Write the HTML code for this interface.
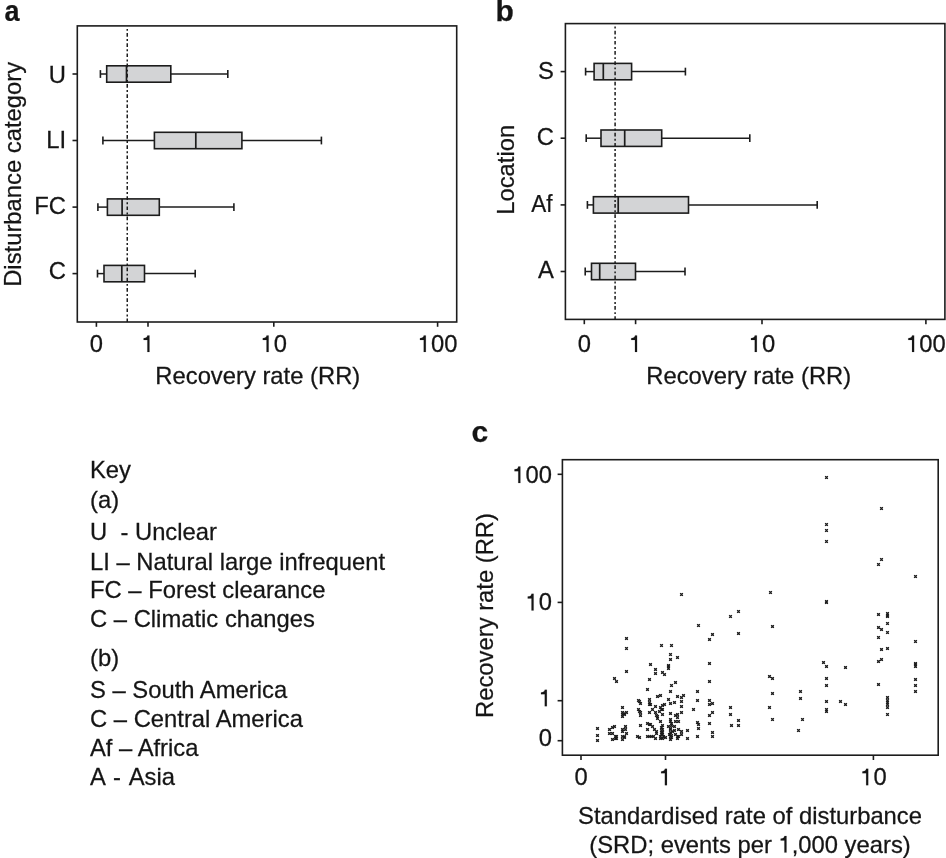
<!DOCTYPE html>
<html><head><meta charset="utf-8"><title>Recovery rate figure</title>
<style>
html,body{margin:0;padding:0;background:#fff;width:946px;height:858px;overflow:hidden}
svg{display:block;will-change:transform}
text{font-family:"Liberation Sans", sans-serif;fill:#151515;stroke:#151515;stroke-width:0.25px}
line,rect,path{stroke:#1c1c1c}
.h1{fill-opacity:0;stroke-opacity:0}
path.g1{fill:#151515;stroke:#151515;stroke-width:11px}
</style></head>
<body>
<svg width="946" height="858" viewBox="0 0 946 858">
<g id="pa">
<rect x="77.30" y="25.90" width="379.40" height="296.10" fill="none" stroke-width="1.6"/>
<line x1="72.50" y1="74.00" x2="77.30" y2="74.00" stroke-width="1.6" />
<text transform="translate(66.00,82.50) scale(1.026,1)" text-anchor="end" font-size="23.2" font-weight="400" >U</text>
<line x1="72.50" y1="140.50" x2="77.30" y2="140.50" stroke-width="1.6" />
<text transform="translate(66.00,147.50) scale(1.026,1)" text-anchor="end" font-size="23.2" font-weight="400" >LI</text>
<line x1="72.50" y1="207.10" x2="77.30" y2="207.10" stroke-width="1.6" />
<text transform="translate(66.00,214.10) scale(1.026,1)" text-anchor="end" font-size="23.2" font-weight="400" >FC</text>
<line x1="72.50" y1="273.60" x2="77.30" y2="273.60" stroke-width="1.6" />
<text transform="translate(66.00,279.10) scale(1.026,1)" text-anchor="end" font-size="23.2" font-weight="400" >C</text>
<line x1="96.40" y1="322.00" x2="96.40" y2="326.80" stroke-width="1.6" />
<text transform="translate(96.40,352.00) scale(1.026,1)" text-anchor="middle" font-size="23.2" font-weight="400" >0</text>
<line x1="148.00" y1="322.00" x2="148.00" y2="326.80" stroke-width="1.6" />
<text id="one0" transform="translate(148.00,352.00) scale(1.026,1)" text-anchor="middle" font-size="23.2" font-weight="400" ><tspan class="h1">1</tspan></text>
<path transform="translate(148.00,352.00) scale(1.026,1) translate(-6.455,0.000) scale(0.01133,-0.01133)" d="M696 0L515 0L515 1055L190 1055L190 1220Q400 1225 470 1320Q505 1385 520 1465L696 1465Z" class="g1"/>
<line x1="273.80" y1="322.00" x2="273.80" y2="326.80" stroke-width="1.6" />
<text id="one1" transform="translate(273.80,352.00) scale(1.026,1)" text-anchor="middle" font-size="23.2" font-weight="400" ><tspan class="h1">1</tspan>0</text>
<path transform="translate(273.80,352.00) scale(1.026,1) translate(-12.909,0.000) scale(0.01133,-0.01133)" d="M696 0L515 0L515 1055L190 1055L190 1220Q400 1225 470 1320Q505 1385 520 1465L696 1465Z" class="g1"/>
<line x1="437.60" y1="322.00" x2="437.60" y2="326.80" stroke-width="1.6" />
<text id="one2" transform="translate(437.60,352.00) scale(1.026,1)" text-anchor="middle" font-size="23.2" font-weight="400" ><tspan class="h1">1</tspan>00</text>
<path transform="translate(437.60,352.00) scale(1.026,1) translate(-19.356,0.000) scale(0.01133,-0.01133)" d="M696 0L515 0L515 1055L190 1055L190 1220Q400 1225 470 1320Q505 1385 520 1465L696 1465Z" class="g1"/>
<text transform="translate(257.80,383.60) scale(1.026,1)" text-anchor="middle" font-size="23.2" font-weight="400" >Recovery rate (RR)</text>
<text transform="translate(20.60,174.40) rotate(-90) scale(1.026,1)" text-anchor="middle" font-size="23.2" font-weight="400" >Disturbance category</text>
<line x1="100.40" y1="74.00" x2="106.70" y2="74.00" stroke-width="1.5" />
<line x1="170.80" y1="74.00" x2="227.80" y2="74.00" stroke-width="1.5" />
<line x1="100.40" y1="70.10" x2="100.40" y2="77.90" stroke-width="1.6" />
<line x1="227.80" y1="70.10" x2="227.80" y2="77.90" stroke-width="1.6" />
<rect x="106.70" y="65.80" width="64.10" height="16.40" fill="#d3d4d6" stroke-width="1.6"/>
<line x1="126.50" y1="65.80" x2="126.50" y2="82.20" stroke-width="1.7" />
<line x1="102.90" y1="140.50" x2="154.40" y2="140.50" stroke-width="1.5" />
<line x1="241.90" y1="140.50" x2="321.40" y2="140.50" stroke-width="1.5" />
<line x1="102.90" y1="136.60" x2="102.90" y2="144.40" stroke-width="1.6" />
<line x1="321.40" y1="136.60" x2="321.40" y2="144.40" stroke-width="1.6" />
<rect x="154.40" y="132.30" width="87.50" height="16.40" fill="#d3d4d6" stroke-width="1.6"/>
<line x1="195.80" y1="132.30" x2="195.80" y2="148.70" stroke-width="1.7" />
<line x1="97.90" y1="207.10" x2="107.40" y2="207.10" stroke-width="1.5" />
<line x1="159.30" y1="207.10" x2="233.90" y2="207.10" stroke-width="1.5" />
<line x1="97.90" y1="203.20" x2="97.90" y2="211.00" stroke-width="1.6" />
<line x1="233.90" y1="203.20" x2="233.90" y2="211.00" stroke-width="1.6" />
<rect x="107.40" y="198.90" width="51.90" height="16.40" fill="#d3d4d6" stroke-width="1.6"/>
<line x1="122.10" y1="198.90" x2="122.10" y2="215.30" stroke-width="1.7" />
<line x1="97.50" y1="273.60" x2="104.00" y2="273.60" stroke-width="1.5" />
<line x1="144.50" y1="273.60" x2="195.20" y2="273.60" stroke-width="1.5" />
<line x1="97.50" y1="269.70" x2="97.50" y2="277.50" stroke-width="1.6" />
<line x1="195.20" y1="269.70" x2="195.20" y2="277.50" stroke-width="1.6" />
<rect x="104.00" y="265.40" width="40.50" height="16.40" fill="#d3d4d6" stroke-width="1.6"/>
<line x1="121.80" y1="265.40" x2="121.80" y2="281.80" stroke-width="1.7" />
<line x1="127.25" y1="28.90" x2="127.25" y2="322.00" stroke-width="1.5" stroke-dasharray="1.9 2.2 3.7 2.4"/>
</g>
<g id="pb">
<rect x="565.40" y="23.60" width="379.50" height="295.80" fill="none" stroke-width="1.6"/>
<line x1="560.60" y1="71.60" x2="565.40" y2="71.60" stroke-width="1.6" />
<text transform="translate(554.00,79.20) scale(1.026,1)" text-anchor="end" font-size="23.2" font-weight="400" >S</text>
<line x1="560.60" y1="138.20" x2="565.40" y2="138.20" stroke-width="1.6" />
<text transform="translate(554.00,145.20) scale(1.026,1)" text-anchor="end" font-size="23.2" font-weight="400" >C</text>
<line x1="560.60" y1="204.90" x2="565.40" y2="204.90" stroke-width="1.6" />
<text transform="translate(552.60,211.90) scale(0.97,1)" text-anchor="end" font-size="23.2" font-weight="400" >Af</text>
<line x1="560.60" y1="271.50" x2="565.40" y2="271.50" stroke-width="1.6" />
<text transform="translate(554.00,277.60) scale(1.026,1)" text-anchor="end" font-size="23.2" font-weight="400" >A</text>
<line x1="584.30" y1="319.40" x2="584.30" y2="324.20" stroke-width="1.6" />
<text transform="translate(584.30,352.00) scale(1.026,1)" text-anchor="middle" font-size="23.2" font-weight="400" >0</text>
<line x1="635.60" y1="319.40" x2="635.60" y2="324.20" stroke-width="1.6" />
<text id="one3" transform="translate(635.60,352.00) scale(1.026,1)" text-anchor="middle" font-size="23.2" font-weight="400" ><tspan class="h1">1</tspan></text>
<path transform="translate(635.60,352.00) scale(1.026,1) translate(-6.455,0.000) scale(0.01133,-0.01133)" d="M696 0L515 0L515 1055L190 1055L190 1220Q400 1225 470 1320Q505 1385 520 1465L696 1465Z" class="g1"/>
<line x1="762.00" y1="319.40" x2="762.00" y2="324.20" stroke-width="1.6" />
<text id="one4" transform="translate(762.00,352.00) scale(1.026,1)" text-anchor="middle" font-size="23.2" font-weight="400" ><tspan class="h1">1</tspan>0</text>
<path transform="translate(762.00,352.00) scale(1.026,1) translate(-12.909,0.000) scale(0.01133,-0.01133)" d="M696 0L515 0L515 1055L190 1055L190 1220Q400 1225 470 1320Q505 1385 520 1465L696 1465Z" class="g1"/>
<line x1="925.90" y1="319.40" x2="925.90" y2="324.20" stroke-width="1.6" />
<text id="one5" transform="translate(925.90,352.00) scale(1.026,1)" text-anchor="middle" font-size="23.2" font-weight="400" ><tspan class="h1">1</tspan>00</text>
<path transform="translate(925.90,352.00) scale(1.026,1) translate(-19.356,0.000) scale(0.01133,-0.01133)" d="M696 0L515 0L515 1055L190 1055L190 1220Q400 1225 470 1320Q505 1385 520 1465L696 1465Z" class="g1"/>
<text transform="translate(748.70,383.60) scale(1.026,1)" text-anchor="middle" font-size="23.2" font-weight="400" >Recovery rate (RR)</text>
<text transform="translate(514.30,169.80) rotate(-90) scale(1.026,1)" text-anchor="middle" font-size="23.2" font-weight="400" >Location</text>
<line x1="585.60" y1="71.60" x2="594.10" y2="71.60" stroke-width="1.5" />
<line x1="631.60" y1="71.60" x2="685.40" y2="71.60" stroke-width="1.5" />
<line x1="585.60" y1="67.70" x2="585.60" y2="75.50" stroke-width="1.6" />
<line x1="685.40" y1="67.70" x2="685.40" y2="75.50" stroke-width="1.6" />
<rect x="594.10" y="63.40" width="37.50" height="16.40" fill="#d3d4d6" stroke-width="1.6"/>
<line x1="603.30" y1="63.40" x2="603.30" y2="79.80" stroke-width="1.7" />
<line x1="586.20" y1="138.20" x2="601.00" y2="138.20" stroke-width="1.5" />
<line x1="661.70" y1="138.20" x2="749.80" y2="138.20" stroke-width="1.5" />
<line x1="586.20" y1="134.30" x2="586.20" y2="142.10" stroke-width="1.6" />
<line x1="749.80" y1="134.30" x2="749.80" y2="142.10" stroke-width="1.6" />
<rect x="601.00" y="130.00" width="60.70" height="16.40" fill="#d3d4d6" stroke-width="1.6"/>
<line x1="624.70" y1="130.00" x2="624.70" y2="146.40" stroke-width="1.7" />
<line x1="587.40" y1="204.90" x2="593.40" y2="204.90" stroke-width="1.5" />
<line x1="688.50" y1="204.90" x2="817.20" y2="204.90" stroke-width="1.5" />
<line x1="587.40" y1="201.00" x2="587.40" y2="208.80" stroke-width="1.6" />
<line x1="817.20" y1="201.00" x2="817.20" y2="208.80" stroke-width="1.6" />
<rect x="593.40" y="196.70" width="95.10" height="16.40" fill="#d3d4d6" stroke-width="1.6"/>
<line x1="618.20" y1="196.70" x2="618.20" y2="213.10" stroke-width="1.7" />
<line x1="585.20" y1="271.50" x2="591.50" y2="271.50" stroke-width="1.5" />
<line x1="635.50" y1="271.50" x2="685.00" y2="271.50" stroke-width="1.5" />
<line x1="585.20" y1="267.60" x2="585.20" y2="275.40" stroke-width="1.6" />
<line x1="685.00" y1="267.60" x2="685.00" y2="275.40" stroke-width="1.6" />
<rect x="591.50" y="263.30" width="44.00" height="16.40" fill="#d3d4d6" stroke-width="1.6"/>
<line x1="599.70" y1="263.30" x2="599.70" y2="279.70" stroke-width="1.7" />
<line x1="615.10" y1="26.60" x2="615.10" y2="319.40" stroke-width="1.5" stroke-dasharray="1.9 2.2 3.7 2.4"/>
</g>
<g id="pc">
<rect x="562.40" y="459.70" width="375.80" height="295.50" fill="none" stroke-width="1.6"/>
<line x1="557.60" y1="474.30" x2="562.40" y2="474.30" stroke-width="1.6" />
<text id="one6" transform="translate(552.00,483.10) scale(1.026,1)" text-anchor="end" font-size="23.2" font-weight="400" ><tspan class="h1">1</tspan>00</text>
<path transform="translate(552.00,483.10) scale(1.026,1) translate(-38.712,0.000) scale(0.01133,-0.01133)" d="M696 0L515 0L515 1055L190 1055L190 1220Q400 1225 470 1320Q505 1385 520 1465L696 1465Z" class="g1"/>
<line x1="557.60" y1="602.40" x2="562.40" y2="602.40" stroke-width="1.6" />
<text id="one7" transform="translate(552.00,610.40) scale(1.026,1)" text-anchor="end" font-size="23.2" font-weight="400" ><tspan class="h1">1</tspan>0</text>
<path transform="translate(552.00,610.40) scale(1.026,1) translate(-25.818,0.000) scale(0.01133,-0.01133)" d="M696 0L515 0L515 1055L190 1055L190 1220Q400 1225 470 1320Q505 1385 520 1465L696 1465Z" class="g1"/>
<line x1="557.60" y1="700.70" x2="562.40" y2="700.70" stroke-width="1.6" />
<text id="one8" transform="translate(552.00,706.30) scale(1.026,1)" text-anchor="end" font-size="23.2" font-weight="400" ><tspan class="h1">1</tspan></text>
<path transform="translate(552.00,706.30) scale(1.026,1) translate(-12.909,0.000) scale(0.01133,-0.01133)" d="M696 0L515 0L515 1055L190 1055L190 1220Q400 1225 470 1320Q505 1385 520 1465L696 1465Z" class="g1"/>
<line x1="557.60" y1="740.70" x2="562.40" y2="740.70" stroke-width="1.6" />
<text transform="translate(552.00,746.30) scale(1.026,1)" text-anchor="end" font-size="23.2" font-weight="400" >0</text>
<line x1="581.00" y1="755.20" x2="581.00" y2="760.00" stroke-width="1.6" />
<text transform="translate(581.00,785.30) scale(1.026,1)" text-anchor="middle" font-size="23.2" font-weight="400" >0</text>
<line x1="665.50" y1="755.20" x2="665.50" y2="760.00" stroke-width="1.6" />
<text id="one9" transform="translate(665.50,785.30) scale(1.026,1)" text-anchor="middle" font-size="23.2" font-weight="400" ><tspan class="h1">1</tspan></text>
<path transform="translate(665.50,785.30) scale(1.026,1) translate(-6.455,0.000) scale(0.01133,-0.01133)" d="M696 0L515 0L515 1055L190 1055L190 1220Q400 1225 470 1320Q505 1385 520 1465L696 1465Z" class="g1"/>
<line x1="873.40" y1="755.20" x2="873.40" y2="760.00" stroke-width="1.6" />
<text id="one10" transform="translate(873.40,785.30) scale(1.026,1)" text-anchor="middle" font-size="23.2" font-weight="400" ><tspan class="h1">1</tspan>0</text>
<path transform="translate(873.40,785.30) scale(1.026,1) translate(-12.909,0.000) scale(0.01133,-0.01133)" d="M696 0L515 0L515 1055L190 1055L190 1220Q400 1225 470 1320Q505 1385 520 1465L696 1465Z" class="g1"/>
<text transform="translate(750.00,823.50) scale(1.026,1)" text-anchor="middle" font-size="23.2" font-weight="400" >Standardised rate of disturbance</text>
<text id="one11" transform="translate(750.00,852.50) scale(1.026,1)" text-anchor="middle" font-size="23.2" font-weight="400" >(SRD; events per <tspan class="h1">1</tspan>,000 years)</text>
<path transform="translate(750.00,852.50) scale(1.026,1) translate(27.700,0.000) scale(0.01133,-0.01133)" d="M696 0L515 0L515 1055L190 1055L190 1220Q400 1225 470 1320Q505 1385 520 1465L696 1465Z" class="g1"/>
<text transform="translate(493.00,615.50) rotate(-90) scale(1.026,1)" text-anchor="middle" font-size="23.2" font-weight="400" >Recovery rate (RR)</text>
<path d="M825.0 476.0h3v3h-3zM880.0 507.0h3v3h-3zM825.0 523.0h3v3h-3zM825.0 529.0h3v3h-3zM825.0 540.0h3v3h-3zM880.0 558.0h3v3h-3zM877.0 563.0h3v3h-3zM914.0 575.0h3v3h-3zM680.0 593.0h3v3h-3zM769.0 591.0h3v3h-3zM737.0 610.0h3v3h-3zM729.0 615.0h3v3h-3zM697.0 624.0h3v3h-3zM771.0 625.0h3v3h-3zM711.0 633.0h3v3h-3zM708.0 638.0h3v3h-3zM737.0 632.0h3v3h-3zM660.0 644.0h3v3h-3zM670.0 644.0h3v3h-3zM825.0 600.0h3v3h-3zM825.0 601.0h3v3h-3zM877.0 613.0h3v3h-3zM886.0 612.0h3v3h-3zM886.0 614.0h3v3h-3zM886.0 615.0h3v3h-3zM886.0 622.0h3v3h-3zM877.0 626.0h3v3h-3zM880.0 628.0h3v3h-3zM886.0 631.0h3v3h-3zM877.0 636.0h3v3h-3zM914.0 640.0h3v3h-3zM880.0 648.0h3v3h-3zM886.0 647.0h3v3h-3zM822.0 661.0h3v3h-3zM825.0 665.0h3v3h-3zM844.0 666.0h3v3h-3zM877.0 660.0h3v3h-3zM880.0 658.0h3v3h-3zM914.0 662.0h3v3h-3zM914.0 663.0h3v3h-3zM914.0 665.0h3v3h-3zM825.0 677.0h3v3h-3zM914.0 678.0h3v3h-3zM825.0 684.0h3v3h-3zM877.0 683.0h3v3h-3zM914.0 684.0h3v3h-3zM914.0 690.0h3v3h-3zM799.0 690.0h3v3h-3zM799.0 697.0h3v3h-3zM825.0 700.0h3v3h-3zM825.0 708.0h3v3h-3zM825.0 710.0h3v3h-3zM839.0 700.0h3v3h-3zM844.0 703.0h3v3h-3zM886.0 696.0h3v3h-3zM886.0 699.0h3v3h-3zM886.0 701.0h3v3h-3zM886.0 703.0h3v3h-3zM886.0 706.0h3v3h-3zM886.0 713.0h3v3h-3zM801.0 718.0h3v3h-3zM797.0 729.0h3v3h-3zM708.0 662.0h3v3h-3zM708.0 680.0h3v3h-3zM708.0 699.0h3v3h-3zM708.0 703.0h3v3h-3zM711.0 702.0h3v3h-3zM711.0 711.0h3v3h-3zM708.0 714.0h3v3h-3zM708.0 722.0h3v3h-3zM711.0 731.0h3v3h-3zM711.0 735.0h3v3h-3zM729.0 706.0h3v3h-3zM729.0 713.0h3v3h-3zM730.0 724.0h3v3h-3zM737.0 719.0h3v3h-3zM737.0 724.0h3v3h-3zM768.0 675.0h3v3h-3zM771.0 677.0h3v3h-3zM771.0 692.0h3v3h-3zM768.0 706.0h3v3h-3zM771.0 718.0h3v3h-3zM625.0 637.0h3v3h-3zM625.0 647.0h3v3h-3zM625.0 670.0h3v3h-3zM613.0 677.0h3v3h-3zM615.0 680.0h3v3h-3zM649.0 663.0h3v3h-3zM654.0 668.0h3v3h-3zM654.0 672.0h3v3h-3zM648.0 678.0h3v3h-3zM646.0 688.0h3v3h-3zM669.0 653.0h3v3h-3zM669.0 658.0h3v3h-3zM676.0 656.0h3v3h-3zM667.0 664.0h3v3h-3zM667.0 665.0h3v3h-3zM667.0 667.0h3v3h-3zM661.0 671.0h3v3h-3zM663.0 673.0h3v3h-3zM674.0 681.0h3v3h-3zM670.0 684.0h3v3h-3zM637.0 699.0h3v3h-3zM638.0 700.0h3v3h-3zM639.0 702.0h3v3h-3zM637.0 708.0h3v3h-3zM638.0 710.0h3v3h-3zM639.0 711.0h3v3h-3zM639.0 714.0h3v3h-3zM639.0 724.0h3v3h-3zM636.0 735.0h3v3h-3zM638.0 736.0h3v3h-3zM648.0 698.0h3v3h-3zM648.0 701.0h3v3h-3zM648.0 703.0h3v3h-3zM648.0 711.0h3v3h-3zM646.0 722.0h3v3h-3zM648.0 723.0h3v3h-3zM646.0 728.0h3v3h-3zM646.0 735.0h3v3h-3zM648.0 735.0h3v3h-3zM621.0 706.0h3v3h-3zM621.0 711.0h3v3h-3zM623.0 712.0h3v3h-3zM625.0 711.0h3v3h-3zM621.0 713.0h3v3h-3zM623.0 713.0h3v3h-3zM621.0 715.0h3v3h-3zM596.0 727.0h3v3h-3zM596.0 734.0h3v3h-3zM596.0 739.0h3v3h-3zM608.0 728.0h3v3h-3zM608.0 732.0h3v3h-3zM611.0 726.0h3v3h-3zM613.0 725.0h3v3h-3zM611.0 732.0h3v3h-3zM614.0 735.0h3v3h-3zM615.0 735.0h3v3h-3zM614.0 737.0h3v3h-3zM615.0 737.0h3v3h-3zM611.0 738.0h3v3h-3zM621.0 728.0h3v3h-3zM624.0 725.0h3v3h-3zM624.0 728.0h3v3h-3zM621.0 730.0h3v3h-3zM625.0 732.0h3v3h-3zM621.0 735.0h3v3h-3zM623.0 735.0h3v3h-3zM621.0 738.0h3v3h-3zM623.0 736.0h3v3h-3zM669.0 690.0h3v3h-3zM696.0 690.0h3v3h-3zM656.0 695.0h3v3h-3zM659.0 694.0h3v3h-3zM667.0 698.0h3v3h-3zM676.0 695.0h3v3h-3zM682.0 694.0h3v3h-3zM680.0 696.0h3v3h-3zM680.0 700.0h3v3h-3zM696.0 699.0h3v3h-3zM649.0 703.0h3v3h-3zM669.0 702.0h3v3h-3zM673.0 701.0h3v3h-3zM680.0 705.0h3v3h-3zM654.0 705.0h3v3h-3zM651.0 708.0h3v3h-3zM659.0 706.0h3v3h-3zM661.0 704.0h3v3h-3zM663.0 703.0h3v3h-3zM660.0 708.0h3v3h-3zM661.0 708.0h3v3h-3zM654.0 711.0h3v3h-3zM658.0 710.0h3v3h-3zM661.0 713.0h3v3h-3zM669.0 712.0h3v3h-3zM680.0 711.0h3v3h-3zM692.0 708.0h3v3h-3zM655.0 714.0h3v3h-3zM656.0 717.0h3v3h-3zM659.0 720.0h3v3h-3zM674.0 714.0h3v3h-3zM676.0 713.0h3v3h-3zM676.0 716.0h3v3h-3zM674.0 720.0h3v3h-3zM677.0 720.0h3v3h-3zM669.0 718.0h3v3h-3zM670.0 722.0h3v3h-3zM696.0 721.0h3v3h-3zM697.0 723.0h3v3h-3zM649.0 723.0h3v3h-3zM651.0 725.0h3v3h-3zM661.0 724.0h3v3h-3zM660.0 726.0h3v3h-3zM667.0 725.0h3v3h-3zM673.0 725.0h3v3h-3zM677.0 728.0h3v3h-3zM686.0 729.0h3v3h-3zM697.0 727.0h3v3h-3zM653.0 728.0h3v3h-3zM655.0 730.0h3v3h-3zM655.0 732.0h3v3h-3zM660.0 729.0h3v3h-3zM661.0 731.0h3v3h-3zM660.0 733.0h3v3h-3zM669.0 728.0h3v3h-3zM669.0 731.0h3v3h-3zM668.0 733.0h3v3h-3zM670.0 734.0h3v3h-3zM673.0 729.0h3v3h-3zM674.0 733.0h3v3h-3zM680.0 730.0h3v3h-3zM680.0 733.0h3v3h-3zM650.0 735.0h3v3h-3zM652.0 735.0h3v3h-3zM654.0 737.0h3v3h-3zM659.0 735.0h3v3h-3zM661.0 737.0h3v3h-3zM659.0 737.0h3v3h-3zM664.0 736.0h3v3h-3zM669.0 735.0h3v3h-3zM669.0 738.0h3v3h-3zM676.0 735.0h3v3h-3zM676.0 737.0h3v3h-3zM677.0 735.0h3v3h-3zM686.0 737.0h3v3h-3zM696.0 735.0h3v3h-3zM661.0 728.0h3v3h-3zM660.0 731.0h3v3h-3zM661.0 733.0h3v3h-3zM662.0 735.0h3v3h-3zM669.0 720.0h3v3h-3zM670.0 724.0h3v3h-3zM669.0 727.0h3v3h-3zM670.0 736.0h3v3h-3zM671.0 730.0h3v3h-3zM656.0 715.0h3v3h-3z" fill="#9a9a9a" style="stroke:none"/>
<path d="M825.1 476.1L827.9 478.9M825.1 478.9L827.9 476.1M880.1 507.1L882.9 509.9M880.1 509.9L882.9 507.1M825.1 523.1L827.9 525.9M825.1 525.9L827.9 523.1M825.1 529.1L827.9 531.9M825.1 531.9L827.9 529.1M825.1 540.1L827.9 542.9M825.1 542.9L827.9 540.1M880.1 558.1L882.9 560.9M880.1 560.9L882.9 558.1M877.1 563.1L879.9 565.9M877.1 565.9L879.9 563.1M914.1 575.1L916.9 577.9M914.1 577.9L916.9 575.1M680.1 593.1L682.9 595.9M680.1 595.9L682.9 593.1M769.1 591.1L771.9 593.9M769.1 593.9L771.9 591.1M737.1 610.1L739.9 612.9M737.1 612.9L739.9 610.1M729.1 615.1L731.9 617.9M729.1 617.9L731.9 615.1M697.1 624.1L699.9 626.9M697.1 626.9L699.9 624.1M771.1 625.1L773.9 627.9M771.1 627.9L773.9 625.1M711.1 633.1L713.9 635.9M711.1 635.9L713.9 633.1M708.1 638.1L710.9 640.9M708.1 640.9L710.9 638.1M737.1 632.1L739.9 634.9M737.1 634.9L739.9 632.1M660.1 644.1L662.9 646.9M660.1 646.9L662.9 644.1M670.1 644.1L672.9 646.9M670.1 646.9L672.9 644.1M825.1 600.1L827.9 602.9M825.1 602.9L827.9 600.1M825.1 601.1L827.9 603.9M825.1 603.9L827.9 601.1M877.1 613.1L879.9 615.9M877.1 615.9L879.9 613.1M886.1 612.1L888.9 614.9M886.1 614.9L888.9 612.1M886.1 614.1L888.9 616.9M886.1 616.9L888.9 614.1M886.1 615.1L888.9 617.9M886.1 617.9L888.9 615.1M886.1 622.1L888.9 624.9M886.1 624.9L888.9 622.1M877.1 626.1L879.9 628.9M877.1 628.9L879.9 626.1M880.1 628.1L882.9 630.9M880.1 630.9L882.9 628.1M886.1 631.1L888.9 633.9M886.1 633.9L888.9 631.1M877.1 636.1L879.9 638.9M877.1 638.9L879.9 636.1M914.1 640.1L916.9 642.9M914.1 642.9L916.9 640.1M880.1 648.1L882.9 650.9M880.1 650.9L882.9 648.1M886.1 647.1L888.9 649.9M886.1 649.9L888.9 647.1M822.1 661.1L824.9 663.9M822.1 663.9L824.9 661.1M825.1 665.1L827.9 667.9M825.1 667.9L827.9 665.1M844.1 666.1L846.9 668.9M844.1 668.9L846.9 666.1M877.1 660.1L879.9 662.9M877.1 662.9L879.9 660.1M880.1 658.1L882.9 660.9M880.1 660.9L882.9 658.1M914.1 662.1L916.9 664.9M914.1 664.9L916.9 662.1M914.1 663.1L916.9 665.9M914.1 665.9L916.9 663.1M914.1 665.1L916.9 667.9M914.1 667.9L916.9 665.1M825.1 677.1L827.9 679.9M825.1 679.9L827.9 677.1M914.1 678.1L916.9 680.9M914.1 680.9L916.9 678.1M825.1 684.1L827.9 686.9M825.1 686.9L827.9 684.1M877.1 683.1L879.9 685.9M877.1 685.9L879.9 683.1M914.1 684.1L916.9 686.9M914.1 686.9L916.9 684.1M914.1 690.1L916.9 692.9M914.1 692.9L916.9 690.1M799.1 690.1L801.9 692.9M799.1 692.9L801.9 690.1M799.1 697.1L801.9 699.9M799.1 699.9L801.9 697.1M825.1 700.1L827.9 702.9M825.1 702.9L827.9 700.1M825.1 708.1L827.9 710.9M825.1 710.9L827.9 708.1M825.1 710.1L827.9 712.9M825.1 712.9L827.9 710.1M839.1 700.1L841.9 702.9M839.1 702.9L841.9 700.1M844.1 703.1L846.9 705.9M844.1 705.9L846.9 703.1M886.1 696.1L888.9 698.9M886.1 698.9L888.9 696.1M886.1 699.1L888.9 701.9M886.1 701.9L888.9 699.1M886.1 701.1L888.9 703.9M886.1 703.9L888.9 701.1M886.1 703.1L888.9 705.9M886.1 705.9L888.9 703.1M886.1 706.1L888.9 708.9M886.1 708.9L888.9 706.1M886.1 713.1L888.9 715.9M886.1 715.9L888.9 713.1M801.1 718.1L803.9 720.9M801.1 720.9L803.9 718.1M797.1 729.1L799.9 731.9M797.1 731.9L799.9 729.1M708.1 662.1L710.9 664.9M708.1 664.9L710.9 662.1M708.1 680.1L710.9 682.9M708.1 682.9L710.9 680.1M708.1 699.1L710.9 701.9M708.1 701.9L710.9 699.1M708.1 703.1L710.9 705.9M708.1 705.9L710.9 703.1M711.1 702.1L713.9 704.9M711.1 704.9L713.9 702.1M711.1 711.1L713.9 713.9M711.1 713.9L713.9 711.1M708.1 714.1L710.9 716.9M708.1 716.9L710.9 714.1M708.1 722.1L710.9 724.9M708.1 724.9L710.9 722.1M711.1 731.1L713.9 733.9M711.1 733.9L713.9 731.1M711.1 735.1L713.9 737.9M711.1 737.9L713.9 735.1M729.1 706.1L731.9 708.9M729.1 708.9L731.9 706.1M729.1 713.1L731.9 715.9M729.1 715.9L731.9 713.1M730.1 724.1L732.9 726.9M730.1 726.9L732.9 724.1M737.1 719.1L739.9 721.9M737.1 721.9L739.9 719.1M737.1 724.1L739.9 726.9M737.1 726.9L739.9 724.1M768.1 675.1L770.9 677.9M768.1 677.9L770.9 675.1M771.1 677.1L773.9 679.9M771.1 679.9L773.9 677.1M771.1 692.1L773.9 694.9M771.1 694.9L773.9 692.1M768.1 706.1L770.9 708.9M768.1 708.9L770.9 706.1M771.1 718.1L773.9 720.9M771.1 720.9L773.9 718.1M625.1 637.1L627.9 639.9M625.1 639.9L627.9 637.1M625.1 647.1L627.9 649.9M625.1 649.9L627.9 647.1M625.1 670.1L627.9 672.9M625.1 672.9L627.9 670.1M613.1 677.1L615.9 679.9M613.1 679.9L615.9 677.1M615.1 680.1L617.9 682.9M615.1 682.9L617.9 680.1M649.1 663.1L651.9 665.9M649.1 665.9L651.9 663.1M654.1 668.1L656.9 670.9M654.1 670.9L656.9 668.1M654.1 672.1L656.9 674.9M654.1 674.9L656.9 672.1M648.1 678.1L650.9 680.9M648.1 680.9L650.9 678.1M646.1 688.1L648.9 690.9M646.1 690.9L648.9 688.1M669.1 653.1L671.9 655.9M669.1 655.9L671.9 653.1M669.1 658.1L671.9 660.9M669.1 660.9L671.9 658.1M676.1 656.1L678.9 658.9M676.1 658.9L678.9 656.1M667.1 664.1L669.9 666.9M667.1 666.9L669.9 664.1M667.1 665.1L669.9 667.9M667.1 667.9L669.9 665.1M667.1 667.1L669.9 669.9M667.1 669.9L669.9 667.1M661.1 671.1L663.9 673.9M661.1 673.9L663.9 671.1M663.1 673.1L665.9 675.9M663.1 675.9L665.9 673.1M674.1 681.1L676.9 683.9M674.1 683.9L676.9 681.1M670.1 684.1L672.9 686.9M670.1 686.9L672.9 684.1M637.1 699.1L639.9 701.9M637.1 701.9L639.9 699.1M638.1 700.1L640.9 702.9M638.1 702.9L640.9 700.1M639.1 702.1L641.9 704.9M639.1 704.9L641.9 702.1M637.1 708.1L639.9 710.9M637.1 710.9L639.9 708.1M638.1 710.1L640.9 712.9M638.1 712.9L640.9 710.1M639.1 711.1L641.9 713.9M639.1 713.9L641.9 711.1M639.1 714.1L641.9 716.9M639.1 716.9L641.9 714.1M639.1 724.1L641.9 726.9M639.1 726.9L641.9 724.1M636.1 735.1L638.9 737.9M636.1 737.9L638.9 735.1M638.1 736.1L640.9 738.9M638.1 738.9L640.9 736.1M648.1 698.1L650.9 700.9M648.1 700.9L650.9 698.1M648.1 701.1L650.9 703.9M648.1 703.9L650.9 701.1M648.1 703.1L650.9 705.9M648.1 705.9L650.9 703.1M648.1 711.1L650.9 713.9M648.1 713.9L650.9 711.1M646.1 722.1L648.9 724.9M646.1 724.9L648.9 722.1M648.1 723.1L650.9 725.9M648.1 725.9L650.9 723.1M646.1 728.1L648.9 730.9M646.1 730.9L648.9 728.1M646.1 735.1L648.9 737.9M646.1 737.9L648.9 735.1M648.1 735.1L650.9 737.9M648.1 737.9L650.9 735.1M621.1 706.1L623.9 708.9M621.1 708.9L623.9 706.1M621.1 711.1L623.9 713.9M621.1 713.9L623.9 711.1M623.1 712.1L625.9 714.9M623.1 714.9L625.9 712.1M625.1 711.1L627.9 713.9M625.1 713.9L627.9 711.1M621.1 713.1L623.9 715.9M621.1 715.9L623.9 713.1M623.1 713.1L625.9 715.9M623.1 715.9L625.9 713.1M621.1 715.1L623.9 717.9M621.1 717.9L623.9 715.1M596.1 727.1L598.9 729.9M596.1 729.9L598.9 727.1M596.1 734.1L598.9 736.9M596.1 736.9L598.9 734.1M596.1 739.1L598.9 741.9M596.1 741.9L598.9 739.1M608.1 728.1L610.9 730.9M608.1 730.9L610.9 728.1M608.1 732.1L610.9 734.9M608.1 734.9L610.9 732.1M611.1 726.1L613.9 728.9M611.1 728.9L613.9 726.1M613.1 725.1L615.9 727.9M613.1 727.9L615.9 725.1M611.1 732.1L613.9 734.9M611.1 734.9L613.9 732.1M614.1 735.1L616.9 737.9M614.1 737.9L616.9 735.1M615.1 735.1L617.9 737.9M615.1 737.9L617.9 735.1M614.1 737.1L616.9 739.9M614.1 739.9L616.9 737.1M615.1 737.1L617.9 739.9M615.1 739.9L617.9 737.1M611.1 738.1L613.9 740.9M611.1 740.9L613.9 738.1M621.1 728.1L623.9 730.9M621.1 730.9L623.9 728.1M624.1 725.1L626.9 727.9M624.1 727.9L626.9 725.1M624.1 728.1L626.9 730.9M624.1 730.9L626.9 728.1M621.1 730.1L623.9 732.9M621.1 732.9L623.9 730.1M625.1 732.1L627.9 734.9M625.1 734.9L627.9 732.1M621.1 735.1L623.9 737.9M621.1 737.9L623.9 735.1M623.1 735.1L625.9 737.9M623.1 737.9L625.9 735.1M621.1 738.1L623.9 740.9M621.1 740.9L623.9 738.1M623.1 736.1L625.9 738.9M623.1 738.9L625.9 736.1M669.1 690.1L671.9 692.9M669.1 692.9L671.9 690.1M696.1 690.1L698.9 692.9M696.1 692.9L698.9 690.1M656.1 695.1L658.9 697.9M656.1 697.9L658.9 695.1M659.1 694.1L661.9 696.9M659.1 696.9L661.9 694.1M667.1 698.1L669.9 700.9M667.1 700.9L669.9 698.1M676.1 695.1L678.9 697.9M676.1 697.9L678.9 695.1M682.1 694.1L684.9 696.9M682.1 696.9L684.9 694.1M680.1 696.1L682.9 698.9M680.1 698.9L682.9 696.1M680.1 700.1L682.9 702.9M680.1 702.9L682.9 700.1M696.1 699.1L698.9 701.9M696.1 701.9L698.9 699.1M649.1 703.1L651.9 705.9M649.1 705.9L651.9 703.1M669.1 702.1L671.9 704.9M669.1 704.9L671.9 702.1M673.1 701.1L675.9 703.9M673.1 703.9L675.9 701.1M680.1 705.1L682.9 707.9M680.1 707.9L682.9 705.1M654.1 705.1L656.9 707.9M654.1 707.9L656.9 705.1M651.1 708.1L653.9 710.9M651.1 710.9L653.9 708.1M659.1 706.1L661.9 708.9M659.1 708.9L661.9 706.1M661.1 704.1L663.9 706.9M661.1 706.9L663.9 704.1M663.1 703.1L665.9 705.9M663.1 705.9L665.9 703.1M660.1 708.1L662.9 710.9M660.1 710.9L662.9 708.1M661.1 708.1L663.9 710.9M661.1 710.9L663.9 708.1M654.1 711.1L656.9 713.9M654.1 713.9L656.9 711.1M658.1 710.1L660.9 712.9M658.1 712.9L660.9 710.1M661.1 713.1L663.9 715.9M661.1 715.9L663.9 713.1M669.1 712.1L671.9 714.9M669.1 714.9L671.9 712.1M680.1 711.1L682.9 713.9M680.1 713.9L682.9 711.1M692.1 708.1L694.9 710.9M692.1 710.9L694.9 708.1M655.1 714.1L657.9 716.9M655.1 716.9L657.9 714.1M656.1 717.1L658.9 719.9M656.1 719.9L658.9 717.1M659.1 720.1L661.9 722.9M659.1 722.9L661.9 720.1M674.1 714.1L676.9 716.9M674.1 716.9L676.9 714.1M676.1 713.1L678.9 715.9M676.1 715.9L678.9 713.1M676.1 716.1L678.9 718.9M676.1 718.9L678.9 716.1M674.1 720.1L676.9 722.9M674.1 722.9L676.9 720.1M677.1 720.1L679.9 722.9M677.1 722.9L679.9 720.1M669.1 718.1L671.9 720.9M669.1 720.9L671.9 718.1M670.1 722.1L672.9 724.9M670.1 724.9L672.9 722.1M696.1 721.1L698.9 723.9M696.1 723.9L698.9 721.1M697.1 723.1L699.9 725.9M697.1 725.9L699.9 723.1M649.1 723.1L651.9 725.9M649.1 725.9L651.9 723.1M651.1 725.1L653.9 727.9M651.1 727.9L653.9 725.1M661.1 724.1L663.9 726.9M661.1 726.9L663.9 724.1M660.1 726.1L662.9 728.9M660.1 728.9L662.9 726.1M667.1 725.1L669.9 727.9M667.1 727.9L669.9 725.1M673.1 725.1L675.9 727.9M673.1 727.9L675.9 725.1M677.1 728.1L679.9 730.9M677.1 730.9L679.9 728.1M686.1 729.1L688.9 731.9M686.1 731.9L688.9 729.1M697.1 727.1L699.9 729.9M697.1 729.9L699.9 727.1M653.1 728.1L655.9 730.9M653.1 730.9L655.9 728.1M655.1 730.1L657.9 732.9M655.1 732.9L657.9 730.1M655.1 732.1L657.9 734.9M655.1 734.9L657.9 732.1M660.1 729.1L662.9 731.9M660.1 731.9L662.9 729.1M661.1 731.1L663.9 733.9M661.1 733.9L663.9 731.1M660.1 733.1L662.9 735.9M660.1 735.9L662.9 733.1M669.1 728.1L671.9 730.9M669.1 730.9L671.9 728.1M669.1 731.1L671.9 733.9M669.1 733.9L671.9 731.1M668.1 733.1L670.9 735.9M668.1 735.9L670.9 733.1M670.1 734.1L672.9 736.9M670.1 736.9L672.9 734.1M673.1 729.1L675.9 731.9M673.1 731.9L675.9 729.1M674.1 733.1L676.9 735.9M674.1 735.9L676.9 733.1M680.1 730.1L682.9 732.9M680.1 732.9L682.9 730.1M680.1 733.1L682.9 735.9M680.1 735.9L682.9 733.1M650.1 735.1L652.9 737.9M650.1 737.9L652.9 735.1M652.1 735.1L654.9 737.9M652.1 737.9L654.9 735.1M654.1 737.1L656.9 739.9M654.1 739.9L656.9 737.1M659.1 735.1L661.9 737.9M659.1 737.9L661.9 735.1M661.1 737.1L663.9 739.9M661.1 739.9L663.9 737.1M659.1 737.1L661.9 739.9M659.1 739.9L661.9 737.1M664.1 736.1L666.9 738.9M664.1 738.9L666.9 736.1M669.1 735.1L671.9 737.9M669.1 737.9L671.9 735.1M669.1 738.1L671.9 740.9M669.1 740.9L671.9 738.1M676.1 735.1L678.9 737.9M676.1 737.9L678.9 735.1M676.1 737.1L678.9 739.9M676.1 739.9L678.9 737.1M677.1 735.1L679.9 737.9M677.1 737.9L679.9 735.1M686.1 737.1L688.9 739.9M686.1 739.9L688.9 737.1M696.1 735.1L698.9 737.9M696.1 737.9L698.9 735.1M661.1 728.1L663.9 730.9M661.1 730.9L663.9 728.1M660.1 731.1L662.9 733.9M660.1 733.9L662.9 731.1M661.1 733.1L663.9 735.9M661.1 735.9L663.9 733.1M662.1 735.1L664.9 737.9M662.1 737.9L664.9 735.1M669.1 720.1L671.9 722.9M669.1 722.9L671.9 720.1M670.1 724.1L672.9 726.9M670.1 726.9L672.9 724.1M669.1 727.1L671.9 729.9M669.1 729.9L671.9 727.1M670.1 736.1L672.9 738.9M670.1 738.9L672.9 736.1M671.1 730.1L673.9 732.9M671.1 732.9L673.9 730.1M656.1 715.1L658.9 717.9M656.1 717.9L658.9 715.1" stroke-width="1.15" fill="none"/>
</g>
<text transform="translate(4.40,21.40) scale(0.9,1)" text-anchor="start" font-size="30" font-weight="700" >a</text>
<text transform="translate(495.60,21.20) scale(1.0,1)" text-anchor="start" font-size="30" font-weight="700" >b</text>
<text transform="translate(471.40,441.70) scale(1.0,1)" text-anchor="start" font-size="30" font-weight="700" >c</text>
<text transform="translate(90.00,477.60) scale(1.026,1)" text-anchor="start" font-size="23.2" font-weight="400" >Key</text>
<text transform="translate(90.00,507.50) scale(1.026,1)" text-anchor="start" font-size="23.2" font-weight="400" >(a)</text>
<text transform="translate(90.00,540.40) scale(1.026,1)" text-anchor="start" font-size="23.2" font-weight="400" >U  - Unclear</text>
<text transform="translate(90.00,569.60) scale(1.026,1)" text-anchor="start" font-size="23.2" font-weight="400" >LI – Natural large infrequent</text>
<text transform="translate(90.00,598.30) scale(1.026,1)" text-anchor="start" font-size="23.2" font-weight="400" >FC – Forest clearance</text>
<text transform="translate(90.00,627.30) scale(1.026,1)" text-anchor="start" font-size="23.2" font-weight="400" >C – Climatic changes</text>
<text transform="translate(90.00,665.50) scale(1.026,1)" text-anchor="start" font-size="23.2" font-weight="400" >(b)</text>
<text transform="translate(90.00,697.90) scale(1.026,1)" text-anchor="start" font-size="23.2" font-weight="400" >S – South America</text>
<text transform="translate(90.00,726.70) scale(1.026,1)" text-anchor="start" font-size="23.2" font-weight="400" >C – Central America</text>
<text transform="translate(90.00,756.30) scale(1.026,1)" text-anchor="start" font-size="23.2" font-weight="400" >Af – Africa</text>
<text transform="translate(90.00,785.30) scale(1.026,1)" text-anchor="start" font-size="23.2" font-weight="400" >A <tspan dx="1.66">-</tspan> <tspan dx="1.2">Asia</tspan></text>
</svg>
</body></html>
